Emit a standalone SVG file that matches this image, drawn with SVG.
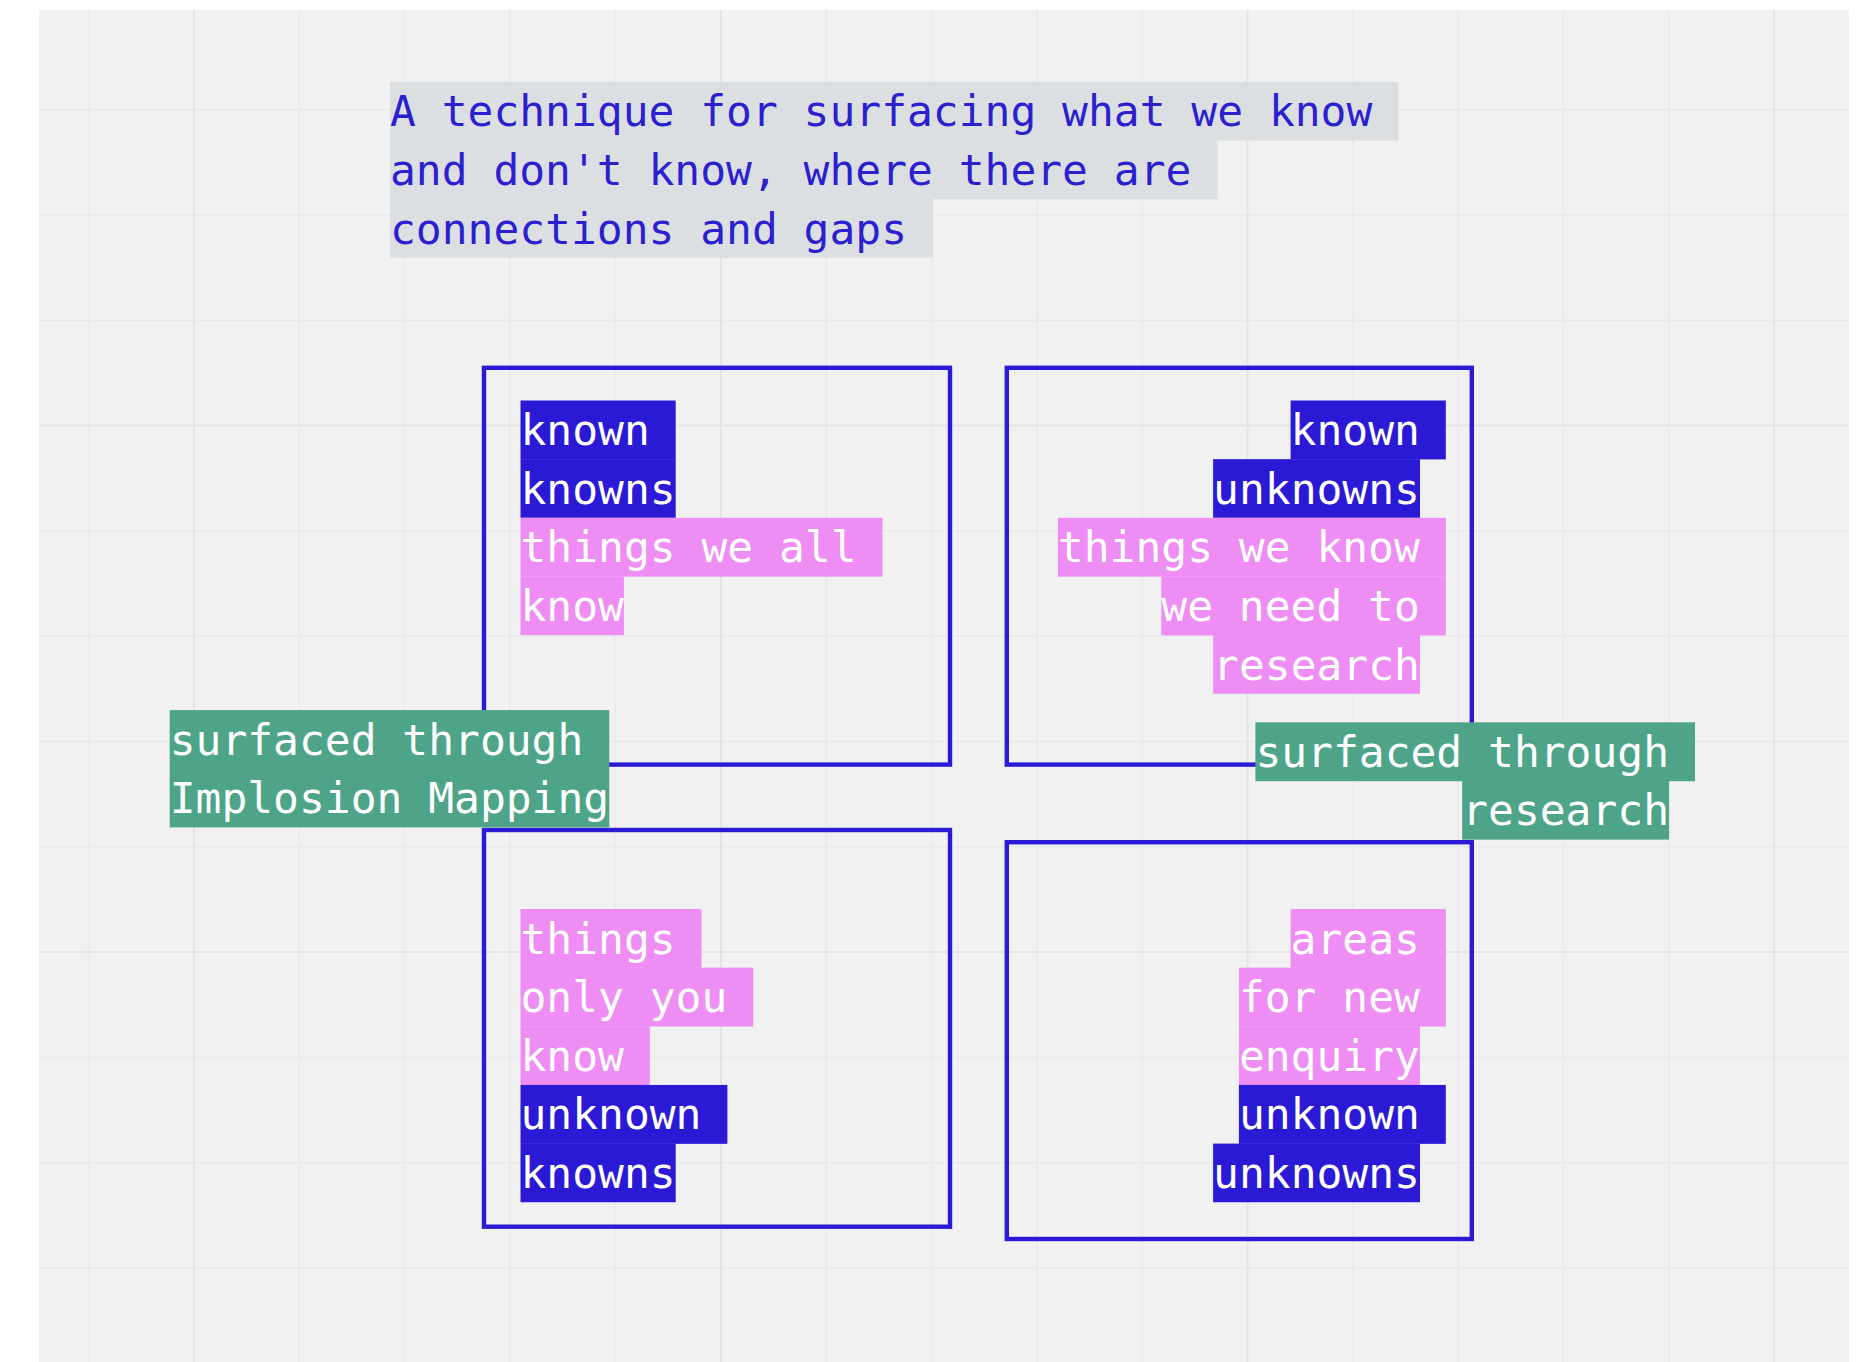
<svg xmlns="http://www.w3.org/2000/svg" width="1869" height="1362" viewBox="0 0 1869 1362">
<style>
.t{font-family:"DejaVu Sans Mono","Liberation Mono",monospace;font-size:42.95px;white-space:pre}
.w{fill:#ffffff}
.b{fill:#2b1fd0}
.dk{fill:#2a1ad6}
.pk{fill:#ee8df4}
.gn{fill:#4da489}
.hd{fill:#dcdfe2}
.frame{fill:none;stroke:#2a1ad6;stroke-width:4.4}
.gl{stroke:#e9e9e9;stroke-width:1.5}
.gm{stroke:#e3e3e3;stroke-width:2}
</style>
<rect x="0" y="0" width="1869" height="1362" fill="#ffffff"/>
<rect x="39" y="10" width="1810" height="1352" fill="#f1f1f1"/>
<g id="grid">
<path class="gl" d="M88.6 10V1362M299.2 10V1362M404.5 10V1362M509.8 10V1362M615.1 10V1362M826.3 10V1362M931.6 10V1362M1036.9 10V1362M1142.2 10V1362M1352.8 10V1362M1458.1 10V1362M1563.4 10V1362M1668.7 10V1362"/>
<path class="gl" d="M39 109.7H1849M39 215H1849M39 320.3H1849M39 530.9H1849M39 636.2H1849M39 741.5H1849M39 846.8H1849M39 1057.4H1849M39 1162.7H1849M39 1268H1849"/>
<path class="gm" d="M194 10V1362M721 10V1362M1247.5 10V1362M1774 10V1362M39 425.6H1849M39 952.1H1849"/>
</g>
<g id="frames">
<rect id="frame-known-knowns" class="frame" x="484" y="367.8" width="466" height="396.8"/>
<rect id="frame-known-unknowns" class="frame" x="1006.8" y="367.8" width="465" height="396.8"/>
<rect id="frame-unknown-knowns" class="frame" x="484" y="830" width="466" height="396.7"/>
<rect id="frame-unknown-unknowns" class="frame" x="1006.8" y="842.2" width="465" height="396.8"/>
</g>
<g id="connectors"></g>
<g id="title">
<rect class="hd" x="390" y="81.7" width="1008.5" height="58.9"/>
<rect class="hd" x="390" y="140.35" width="827.5" height="58.9"/>
<rect class="hd" x="390" y="199" width="543.1" height="58.65"/>
<text class="t b" x="390" y="126.2">A technique for surfacing what we know</text>
<text class="t b" x="390" y="184.85">and don't know, where there are</text>
<text class="t b" x="390" y="243.5">connections and gaps</text>
</g>
<g id="known-knowns">
<rect class="dk" x="520.5" y="400.5" width="155.2" height="58.9"/>
<rect class="dk" x="520.5" y="459.15" width="155.2" height="58.65"/>
<rect class="pk" x="520.5" y="517.8" width="362" height="58.9"/>
<rect class="pk" x="520.5" y="576.45" width="103.4" height="58.65"/>
<text class="t w" x="520.5" y="445">known</text>
<text class="t w" x="520.5" y="503.65">knowns</text>
<text class="t w" x="520.5" y="562.3">things we all</text>
<text class="t w" x="520.5" y="620.95">know</text>
</g>
<g id="known-unknowns">
<rect class="dk" x="1290.6" y="400.5" width="155.2" height="58.9"/>
<rect class="dk" x="1213.1" y="459.15" width="206.9" height="58.65"/>
<rect class="pk" x="1057.9" y="517.8" width="387.9" height="58.9"/>
<rect class="pk" x="1161.3" y="576.45" width="284.5" height="58.9"/>
<rect class="pk" x="1213.1" y="635.1" width="206.9" height="58.65"/>
<text class="t w" x="1290.6" y="445">known</text>
<text class="t w" x="1213.1" y="503.65">unknowns</text>
<text class="t w" x="1057.9" y="562.3">things we know</text>
<text class="t w" x="1161.3" y="620.95">we need to</text>
<text class="t w" x="1213.1" y="679.6">research</text>
</g>
<g id="unknown-knowns">
<rect class="pk" x="520.5" y="909" width="181" height="58.9"/>
<rect class="pk" x="520.5" y="967.65" width="232.7" height="58.9"/>
<rect class="pk" x="520.5" y="1026.3" width="129.3" height="58.65"/>
<rect class="dk" x="520.5" y="1084.95" width="206.9" height="58.9"/>
<rect class="dk" x="520.5" y="1143.6" width="155.2" height="58.65"/>
<text class="t w" x="520.5" y="953.5">things</text>
<text class="t w" x="520.5" y="1012.15">only you</text>
<text class="t w" x="520.5" y="1070.8">know</text>
<text class="t w" x="520.5" y="1129.45">unknown</text>
<text class="t w" x="520.5" y="1188.1">knowns</text>
</g>
<g id="unknown-unknowns">
<rect class="pk" x="1290.6" y="909" width="155.2" height="58.9"/>
<rect class="pk" x="1238.9" y="967.65" width="206.9" height="58.9"/>
<rect class="pk" x="1238.9" y="1026.3" width="181" height="58.65"/>
<rect class="dk" x="1238.9" y="1084.95" width="206.9" height="58.9"/>
<rect class="dk" x="1213.1" y="1143.6" width="206.9" height="58.65"/>
<text class="t w" x="1290.6" y="953.5">areas</text>
<text class="t w" x="1238.9" y="1012.15">for new</text>
<text class="t w" x="1238.9" y="1070.8">enquiry</text>
<text class="t w" x="1238.9" y="1129.45">unknown</text>
<text class="t w" x="1213.1" y="1188.1">unknowns</text>
</g>
<g id="surfaced-implosion">
<rect class="gn" x="169.7" y="710.1" width="439.6" height="58.9"/>
<rect class="gn" x="169.7" y="768.75" width="439.6" height="58.65"/>
<text class="t w" x="169.7" y="754.6">surfaced through</text>
<text class="t w" x="169.7" y="813.25">Implosion Mapping</text>
</g>
<g id="surfaced-research">
<rect class="gn" x="1255.4" y="722.3" width="439.6" height="58.9"/>
<rect class="gn" x="1462.2" y="780.95" width="206.9" height="58.65"/>
<text class="t w" x="1255.4" y="766.8">surfaced through</text>
<text class="t w" x="1462.2" y="825.45">research</text>
</g>
</svg>
